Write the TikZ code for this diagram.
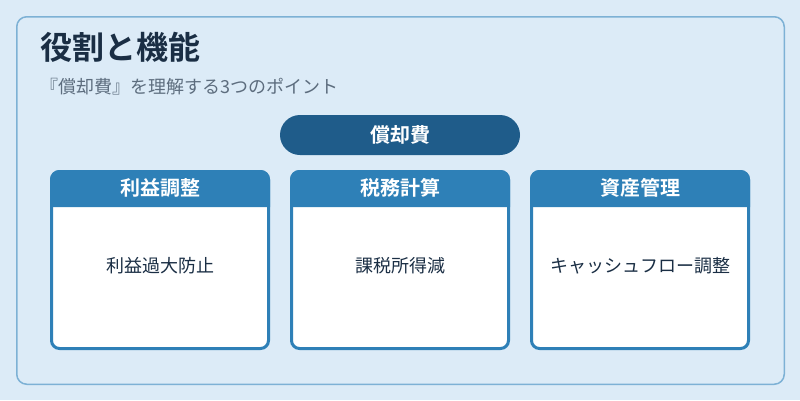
\documentclass[tikz,border=0pt]{standalone}
\usepackage{fontspec}
\setmainfont{Noto Sans CJK JP}[BoldFont={Noto Sans CJK JP Bold}]
\usepackage{tikz}
\definecolor{bgblue}{HTML}{DCEBF7}
\definecolor{edgeblue}{HTML}{7DB1D5}
\definecolor{titlecol}{HTML}{1A2E44}
\definecolor{subcol}{HTML}{5D6D7E}
\definecolor{pillblue}{HTML}{1F5C8A}
\definecolor{headblue}{HTML}{2E80B7}

\begin{document}
\begin{tikzpicture}[x=1pt, y=-1pt,
			cardbox/.style={draw=headblue, line width=3pt, fill=white, rounded corners=8pt, minimum width=217pt, minimum height=177pt},
			headtext/.style={text=white, font=\fontsize{20}{22}\selectfont\bfseries},
			bodytext/.style={text=titlecol, font=\fontsize{18}{20}\selectfont}
		]

		\useasboundingbox (0,0) rectangle (800,400);
		\fill[bgblue] (0,0) rectangle (800,400);

		\node (panel) [draw=edgeblue, line width=1.5pt, rounded corners=10pt, minimum width=767.5pt, minimum height=367.5pt] at (400.5,200.5) {};

		\node (title) [anchor=west, inner sep=0pt, text=titlecol, font=\fontsize{32}{34}\selectfont\bfseries] at (40,47) {役割と機能};
		\node (subtitle) [anchor=west, inner sep=0pt, text=subcol, font=\fontsize{18}{20}\selectfont] at (40,87) {『償却費』を理解する3つのポイント};

		\node (pill) [fill=pillblue, rounded corners=20pt, minimum width=240pt, minimum height=40pt, text=white, font=\fontsize{20}{22}\selectfont\bfseries] at (400,135) {償却費};

		% cards
		\node (card1) [cardbox] at (160,260) {};
		\node (card2) [cardbox] at (400,260) {};
		\node (card3) [cardbox] at (640,260) {};

		\fill[headblue] ([yshift=-37pt]card1.north west) [rounded corners=9.5pt] -- (card1.north west) -- (card1.north east) [sharp corners] -- ([yshift=-37pt]card1.north east) -- cycle;
		\fill[headblue] ([yshift=-37pt]card2.north west) [rounded corners=9.5pt] -- (card2.north west) -- (card2.north east) [sharp corners] -- ([yshift=-37pt]card2.north east) -- cycle;
		\fill[headblue] ([yshift=-37pt]card3.north west) [rounded corners=9.5pt] -- (card3.north west) -- (card3.north east) [sharp corners] -- ([yshift=-37pt]card3.north east) -- cycle;

		\node (head1) [headtext] at (160,188) {利益調整};
		\node (head2) [headtext] at (400,188) {税務計算};
		\node (head3) [headtext] at (640,188) {資産管理};

		\node (body1) [bodytext] at (160,266) {利益過大防止};
		\node (body2) [bodytext] at (400,266) {課税所得減};
		\node (body3) [bodytext] at (640,266) {キャッシュフロー調整};

	\end{tikzpicture}
\end{document}
